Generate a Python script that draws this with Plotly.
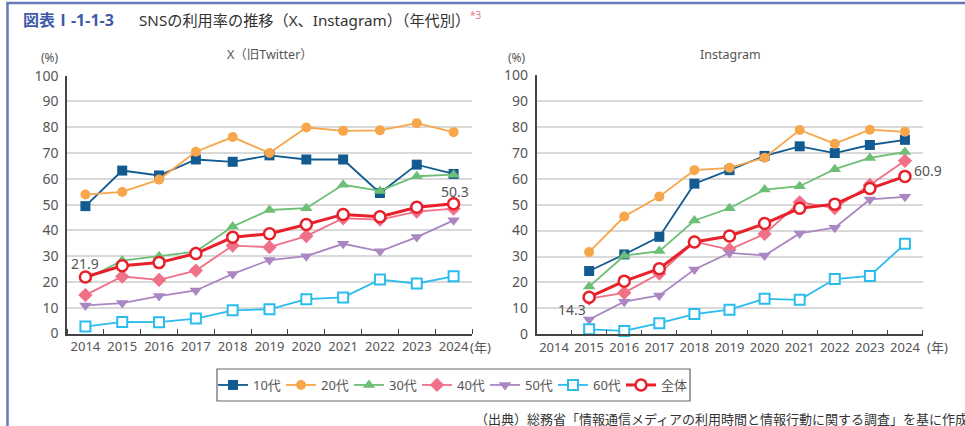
import plotly.graph_objects as go

W, H = 965, 426

years_x = [2014, 2015, 2016, 2017, 2018, 2019, 2020, 2021, 2022, 2023, 2024]
years_ig = [2015, 2016, 2017, 2018, 2019, 2020, 2021, 2022, 2023, 2024]
tick_years = [2014, 2015, 2016, 2017, 2018, 2019, 2020, 2021, 2022, 2023, 2024]
y_ticks = [0, 10, 20, 30, 40, 50, 60, 70, 80, 90, 100]

series_names = ["10代", "20代", "30代", "40代", "50代", "60代", "全体"]

# X (旧Twitter)
x_10 = [49.4, 63.2, 61.3, 67.5, 66.6, 69.1, 67.5, 67.5, 54.5, 65.5, 61.9]
x_20 = [53.9, 54.9, 59.7, 70.5, 76.2, 70.0, 79.9, 78.6, 78.8, 81.6, 78.1]
x_30 = [21.0, 28.3, 30.0, 31.8, 41.5, 47.9, 48.6, 57.7, 55.3, 61.0, 61.6]
x_40 = [14.9, 22.1, 20.8, 24.4, 34.1, 33.5, 37.8, 44.7, 44.2, 47.3, 48.4]
x_50 = [10.9, 11.8, 14.5, 16.7, 23.1, 28.5, 30.0, 34.8, 31.9, 37.4, 43.9]
x_60 = [2.7, 4.5, 4.4, 5.8, 9.0, 9.4, 13.3, 14.0, 20.9, 19.4, 22.2]
x_all = [21.9, 26.3, 27.5, 31.0, 37.3, 38.7, 42.3, 46.2, 45.3, 49.0, 50.3]

# Instagram
ig_10 = [24.4, 30.8, 37.6, 58.1, 63.3, 68.8, 72.5, 69.9, 73.0, 75.0]
ig_20 = [31.7, 45.4, 53.1, 63.3, 64.2, 68.1, 78.8, 73.5, 78.9, 78.1]
ig_30 = [18.4, 30.3, 32.1, 43.9, 48.6, 55.8, 57.1, 63.7, 68.0, 70.3]
ig_40 = [13.8, 16.0, 23.4, 35.7, 32.7, 38.7, 50.9, 48.7, 57.6, 66.9]
ig_50 = [5.7, 12.6, 15.0, 25.0, 31.4, 30.4, 38.9, 41.1, 52.0, 53.0]
ig_60 = [1.9, 1.3, 4.3, 7.8, 9.5, 13.7, 13.3, 21.3, 22.5, 34.9]
ig_all = [14.3, 20.5, 25.3, 35.6, 37.9, 42.7, 48.6, 50.2, 56.2, 60.9]

x_data = [x_10, x_20, x_30, x_40, x_50, x_60, x_all]
ig_data = [ig_10, ig_20, ig_30, ig_40, ig_50, ig_60, ig_all]

styles = [
    dict(color="#125b91", symbol="square", size=10, lw=1.8, fill="#125b91", mlw=0),
    dict(color="#f7a64b", symbol="circle", size=10, lw=1.8, fill="#f7a64b", mlw=0),
    dict(color="#6dbf76", symbol="triangle-up", size=11, lw=1.8, fill="#6dbf76", mlw=0),
    dict(color="#ef7087", symbol="diamond", size=11, lw=1.8, fill="#ef7087", mlw=0),
    dict(color="#aa86c2", symbol="triangle-down", size=11, lw=1.8, fill="#aa86c2", mlw=0),
    dict(color="#2bbcee", symbol="square", size=10, lw=1.8, fill="#ffffff", mlw=2),
    dict(color="#e8202a", symbol="circle", size=11, lw=3, fill="#ffffff", mlw=2.5),
]

FONT = "Noto Sans, Noto Sans CJK JP, sans-serif"
TXT = "#555555"

fig = go.Figure()
for i, name in enumerate(series_names):
    s = styles[i]
    for xs, ys, xa, ya, show in [(years_x, x_data[i], "x", "y", True),
                                 (years_ig, ig_data[i], "x2", "y2", False)]:
        fig.add_trace(go.Scatter(
            x=xs, y=ys, xaxis=xa, yaxis=ya, name=name, legendgroup=name,
            showlegend=show, mode="lines+markers", cliponaxis=False,
            line=dict(color=s["color"], width=s["lw"]),
            marker=dict(symbol=s["symbol"], size=s["size"], color=s["fill"],
                        line=dict(color=s["color"], width=s["mlw"])),
        ))

def px_x(p):
    return p / W

def px_y(p):
    return 1 - p / H

minor_vals = [y - 0.5 for y in tick_years] + [tick_years[-1] + 0.5]
xcommon = dict(range=[2013.5, 2024.5], tickmode="array", tickvals=tick_years,
               ticktext=[str(t) for t in tick_years], showgrid=False, zeroline=False,
               showline=True, linecolor="#444444", linewidth=1.5, ticks="",
               tickfont=dict(family=FONT, size=13, color=TXT), automargin=False,
               minor=dict(tickmode="array", tickvals=minor_vals, ticks="inside",
                          ticklen=5, tickwidth=1.3, tickcolor="#444444", showgrid=False),
               fixedrange=True)
ycommon = dict(range=[0, 100], tickmode="array", tickvals=y_ticks, showgrid=True,
               gridcolor="#d9d9d9", gridwidth=2, zeroline=False, showline=True,
               linecolor="#444444", linewidth=1.5, ticks="", automargin=False,
               tickfont=dict(family=FONT, size=14, color=TXT), ticklabelstandoff=4,
               fixedrange=True)

fig.update_layout(
    width=W, height=H, autosize=False,
    margin=dict(l=0, r=0, t=0, b=0, pad=0, autoexpand=False),
    paper_bgcolor="white", plot_bgcolor="white",
    xaxis=dict(domain=[px_x(67), px_x(472)], anchor="y", **xcommon),
    yaxis=dict(domain=[px_y(333.5), px_y(75.7)], anchor="x", **ycommon),
    xaxis2=dict(domain=[px_x(536.5), px_x(922.5)], anchor="y2", **xcommon),
    yaxis2=dict(domain=[px_y(334.3), px_y(75)], anchor="x2", **ycommon),
    showlegend=True,
    legend=dict(orientation="h", x=px_x(451), y=px_y(385), xanchor="center",
                yanchor="middle", bgcolor="rgba(0,0,0,0)", borderwidth=0,
                entrywidth=23, entrywidthmode="pixels",
                font=dict(family=FONT, size=13, color=TXT)),
)

shapes = [
    dict(type="rect", xref="paper", yref="paper", x0=px_x(217), x1=px_x(690),
         y0=px_y(401), y1=px_y(369), line=dict(color="#666666", width=1.2)),
    dict(type="line", xref="paper", yref="paper", x0=px_x(7.5), x1=px_x(7.5),
         y0=px_y(2), y1=0, line=dict(color="#6678b9", width=2.5)),
    dict(type="line", xref="paper", yref="paper", x0=px_x(6.5), x1=1,
         y0=px_y(3), y1=px_y(3), line=dict(color="#6678b9", width=2.5)),
]
fig.update_layout(shapes=shapes)

ann = []
def pann(text, x, y, size=13, color=TXT, xanchor="center", **kw):
    ann.append(dict(text=text, xref="paper", yref="paper", x=px_x(x), y=px_y(y),
                    xanchor=xanchor, yanchor="middle", showarrow=False,
                    font=dict(family=FONT, size=size, color=color), **kw))

pann("<b>図表Ⅰ-1-1-3</b>", 21, 20, size=16, color="#3c5aa8", xanchor="left")
pann("SNSの利用率の推移（X、Instagram）（年代別）", 137, 20, size=15.2, color="#333333", xanchor="left")
pann("*3", 468, 15, size=10, color="#ee7a8c", xanchor="left")
pann("X（旧Twitter）", 270, 54, size=12.5)
pann("Instagram", 730, 54, size=12.5)
pann("(%)", 50, 57.5, size=12)
pann("(%)", 517, 57, size=12)
pann("(年)", 480, 347, size=13)
pann("(年)", 937, 347, size=13)
pann("（出典）総務省「情報通信メディアの利用時間と情報行動に関する調査」を基に作成",
     473, 419, size=13, color="#333333", xanchor="left")

def dann(text, xa, ya, x, y, xs, ys):
    ann.append(dict(text=text, xref=xa, yref=ya, x=x, y=y, xshift=xs, yshift=ys,
                    showarrow=False, xanchor="center", yanchor="middle",
                    font=dict(family=FONT, size=14, color=TXT)))

dann("21.9", "x", "y", years_x[0], x_all[0], 0, 14)
dann("50.3", "x", "y", years_x[-1], x_all[-1], 1, 12)
dann("60.9", "x2", "y2", years_ig[-1], ig_all[-1], 23, 6)
dann("14.3", "x2", "y2", years_ig[0], ig_all[0], -17, -12)

fig.update_layout(annotations=ann)

fig.write_html(
    "out.html",
    config={"displayModeBar": False},
    post_script="document.body.style.margin='0px';document.body.style.overflow='hidden';",
)
